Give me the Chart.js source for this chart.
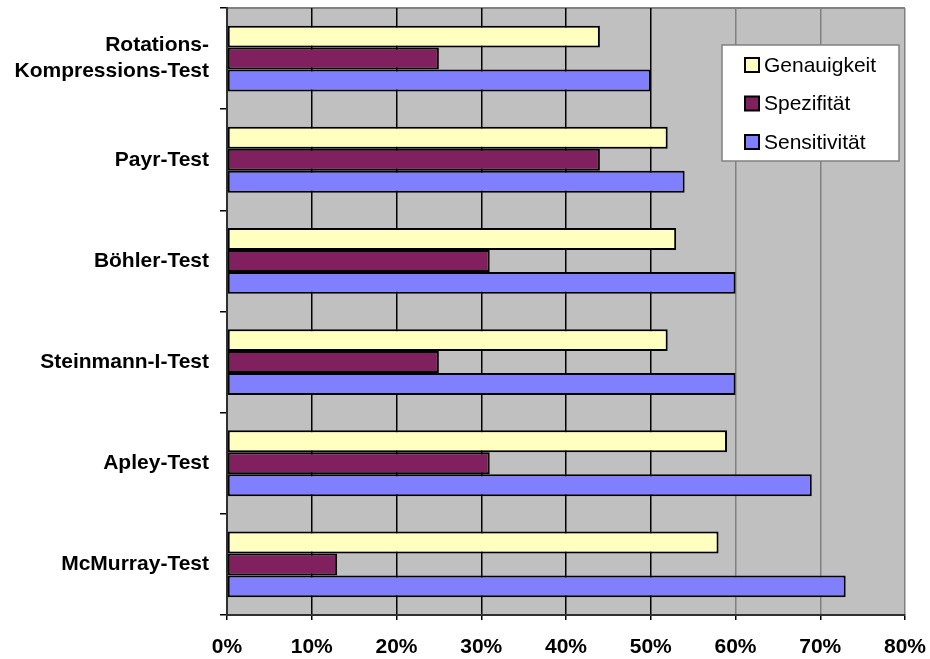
<!DOCTYPE html>
<html>
<head>
<meta charset="utf-8">
<script src="https://cdn.jsdelivr.net/npm/chart.js@4/dist/chart.umd.min.js"></script>
<style>
  html, body { margin: 0; padding: 0; background: #ffffff; }
  #wrap { width: 930px; height: 659px; position: relative; }
</style>
</head>
<body>
<div id="wrap"><canvas id="chart" width="930" height="659"></canvas></div>
<script>
// Test names (top to bottom)
const categories = [
  ['Rotations-', 'Kompressions-Test'],
  'Payr-Test',
  'Böhler-Test',
  'Steinmann-I-Test',
  'Apley-Test',
  'McMurray-Test'
];

// Values in percent
const genauigkeit   = [44, 52, 53, 52, 59, 58];
const spezifitaet   = [25, 44, 31, 25, 31, 13];
const sensitivitaet = [50, 54, 60, 60, 69, 73];

const seriesNames = ['Genauigkeit', 'Spezifität', 'Sensitivität'];
const xTicks = [0, 10, 20, 30, 40, 50, 60, 70, 80];

const FONT = "'Liberation Sans', Arial, Helvetica, sans-serif";

// Grey plot background and top frame line
const plotFrame = {
  id: 'plotFrame',
  beforeDraw(chart) {
    const { ctx, chartArea: a } = chart;
    ctx.save();
    ctx.fillStyle = '#C0C0C0';
    ctx.fillRect(a.left, a.top, a.right - a.left, a.bottom - a.top);
    ctx.strokeStyle = '#808080';
    ctx.lineWidth = 2;
    ctx.beginPath();
    ctx.moveTo(a.left, a.top);
    ctx.lineTo(a.right, a.top);
    ctx.stroke();
    ctx.restore();
  }
};

// Boxed legend inside the plot area, upper right
const boxLegend = {
  id: 'boxLegend',
  afterDatasetsDraw(chart) {
    const { ctx } = chart;
    const bx = 722, by = 45, bw = 177, bh = 116;
    ctx.save();
    ctx.fillStyle = '#ffffff';
    ctx.fillRect(bx, by, bw, bh);
    ctx.strokeStyle = '#808080';
    ctx.lineWidth = 1.5;
    ctx.strokeRect(bx, by, bw, bh);
    ctx.font = '21px ' + FONT;
    ctx.textBaseline = 'middle';
    ctx.textAlign = 'left';
    chart.data.datasets.forEach((ds, i) => {
      const cy = by + 20 + i * 38.5;
      ctx.fillStyle = ds.backgroundColor;
      ctx.fillRect(bx + 23, cy - 7, 14, 14);
      ctx.strokeStyle = '#000000';
      ctx.lineWidth = 2;
      ctx.strokeRect(bx + 23, cy - 7, 14, 14);
      ctx.fillStyle = '#000000';
      ctx.fillText(ds.label, bx + 42, cy + 1);
    });
    ctx.restore();
  }
};

new Chart(document.getElementById('chart'), {
  type: 'bar',
  data: {
    labels: categories,
    datasets: [
      { label: seriesNames[0], data: genauigkeit,   backgroundColor: '#FFFFC0' },
      { label: seriesNames[1], data: spezifitaet,   backgroundColor: '#80205F' },
      { label: seriesNames[2], data: sensitivitaet, backgroundColor: '#8080FF' }
    ]
  },
  options: {
    indexAxis: 'y',
    responsive: false,
    animation: false,
    devicePixelRatio: 1,
    layout: { padding: { left: 0, top: 8, right: 25, bottom: 0 } },
    datasets: {
      bar: {
        borderColor: '#000000',
        borderWidth: 2,
        borderSkipped: false,
        categoryPercentage: 0.65,
        barPercentage: 1.0
      }
    },
    plugins: {
      legend: { display: false },
      tooltip: { enabled: false }
    },
    scales: {
      x: {
        min: 0,
        max: 80,
        afterBuildTicks(scale) {
          scale.ticks = xTicks.map(v => ({ value: v }));
        },
        afterFit(scale) {
          scale.height = 44;
          scale.paddingLeft = 0;
          scale.paddingRight = 0;
        },
        grid: {
          color: (c) => (c.tick && c.tick.value <= 50 ? '#000000' : '#808080'),
          lineWidth: 1.5,
          tickColor: '#000000',
          tickLength: 5,
          drawTicks: true
        },
        border: { display: true, color: '#303030', width: 2 },
        ticks: {
          padding: 15,
          color: '#000000',
          font: { family: FONT, size: 21, weight: 'bold' },
          callback: (v) => v + '%'
        }
      },
      y: {
        afterFit(scale) {
          scale.width = 227;
          scale.paddingTop = 0;
          scale.paddingBottom = 0;
        },
        grid: {
          offset: true,
          drawOnChartArea: false,
          tickColor: '#000000',
          tickLength: 7,
          lineWidth: 1.5
        },
        border: { display: true, color: '#303030', width: 2 },
        ticks: {
          padding: 11,
          color: '#000000',
          font: { family: FONT, size: 21, weight: 'bold', lineHeight: 1.24 }
        }
      }
    }
  },
  plugins: [plotFrame, boxLegend]
});
</script>
</body>
</html>
